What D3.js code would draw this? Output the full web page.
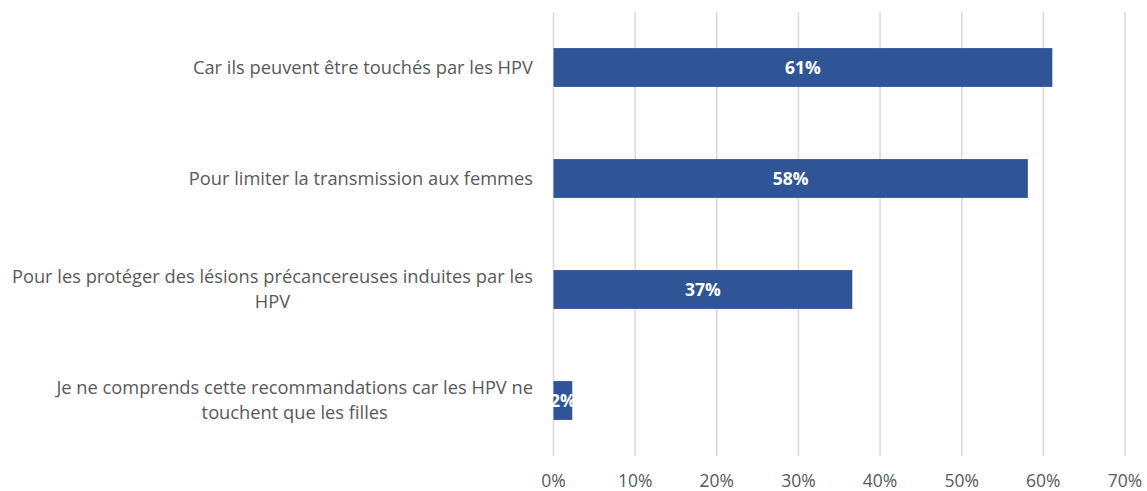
<!DOCTYPE html>
<html>
<head>
<meta charset="utf-8">
<script src="https://cdn.jsdelivr.net/npm/d3@7"></script>
<style>
  body { margin: 0; background: #fff; }
  svg { display: block; }
</style>
</head>
<body>
<div id="app"></div>
<script>
// chart data
const categories = [
  ["Car ils peuvent être touchés par les HPV"],
  ["Pour limiter la transmission aux femmes"],
  ["Pour les protéger des lésions précancereuses induites par les", "HPV"],
  ["Je ne comprends cette recommandations car les HPV ne", "touchent que les filles"]
];
const values = [61.1, 58.1, 36.6, 2.3];
const valueLabels = ["61%", "58%", "37%", "2%"];
const ticks = [0, 10, 20, 30, 40, 50, 60, 70];

const WIDTH = 1147;
const HEIGHT = 491;
const margin = { top: 12, right: 22, bottom: 35, left: 553.5 };
const FONT = "'Open Sans', Lato, sans-serif";

const svg = d3.select('#app')
  .append('svg')
  .attr('width', WIDTH)
  .attr('height', HEIGHT);

const x = d3.scaleLinear()
  .domain([0, 70])
  .range([margin.left, WIDTH - margin.right]);

const y = d3.scaleBand()
  .domain(d3.range(categories.length))
  .range([margin.top, HEIGHT - margin.bottom])
  .paddingInner(0.65)
  .paddingOuter(0.325);

// gridlines
svg.append('g')
  .selectAll('line')
  .data(ticks)
  .join('line')
  .attr('x1', d => x(d))
  .attr('x2', d => x(d))
  .attr('y1', margin.top)
  .attr('y2', HEIGHT - margin.bottom)
  .attr('stroke', '#d9d9d9')
  .attr('stroke-width', 1.5);

// tick labels
svg.append('g')
  .selectAll('text')
  .data(ticks)
  .join('text')
  .attr('x', d => x(d))
  .attr('y', 486.5)
  .attr('text-anchor', 'middle')
  .attr('font-family', FONT)
  .attr('font-size', 17.5)
  .attr('fill', '#595959')
  .text(d => d + '%');

// bars
svg.append('g')
  .selectAll('rect')
  .data(values)
  .join('rect')
  .attr('x', x(0))
  .attr('y', (d, i) => y(i))
  .attr('width', d => x(d) - x(0))
  .attr('height', y.bandwidth())
  .attr('fill', '#2f5597');

// value labels
svg.append('g')
  .selectAll('text')
  .data(values)
  .join('text')
  .attr('x', d => (x(0) + x(d)) / 2)
  .attr('y', (d, i) => y(i) + y.bandwidth() / 2)
  .attr('dy', '0.35em')
  .attr('text-anchor', 'middle')
  .attr('font-family', FONT)
  .attr('font-size', 17.5)
  .attr('font-weight', 'bold')
  .attr('fill', '#fff')
  .text((d, i) => valueLabels[i]);

// category labels, multi-line blocks centred and right-aligned at 533
const labelRight = 533;
const lineH = 25;
const catG = svg.append('g');
categories.forEach((lines, i) => {
  const t = catG.append('text')
    .attr('font-family', FONT)
    .attr('font-size', 18.3)
    .attr('fill', '#595959')
    .attr('text-anchor', 'middle');
  const cy = y(i) + y.bandwidth() / 2;
  lines.forEach((ln, j) => {
    t.append('tspan')
      .attr('y', cy + (j - (lines.length - 1) / 2) * lineH)
      .attr('dy', '0.35em')
      .text(ln);
  });
  const w = d3.max(t.selectAll('tspan').nodes(), n => n.getComputedTextLength());
  t.selectAll('tspan').attr('x', labelRight - w / 2);
});
</script>
</body>
</html>
